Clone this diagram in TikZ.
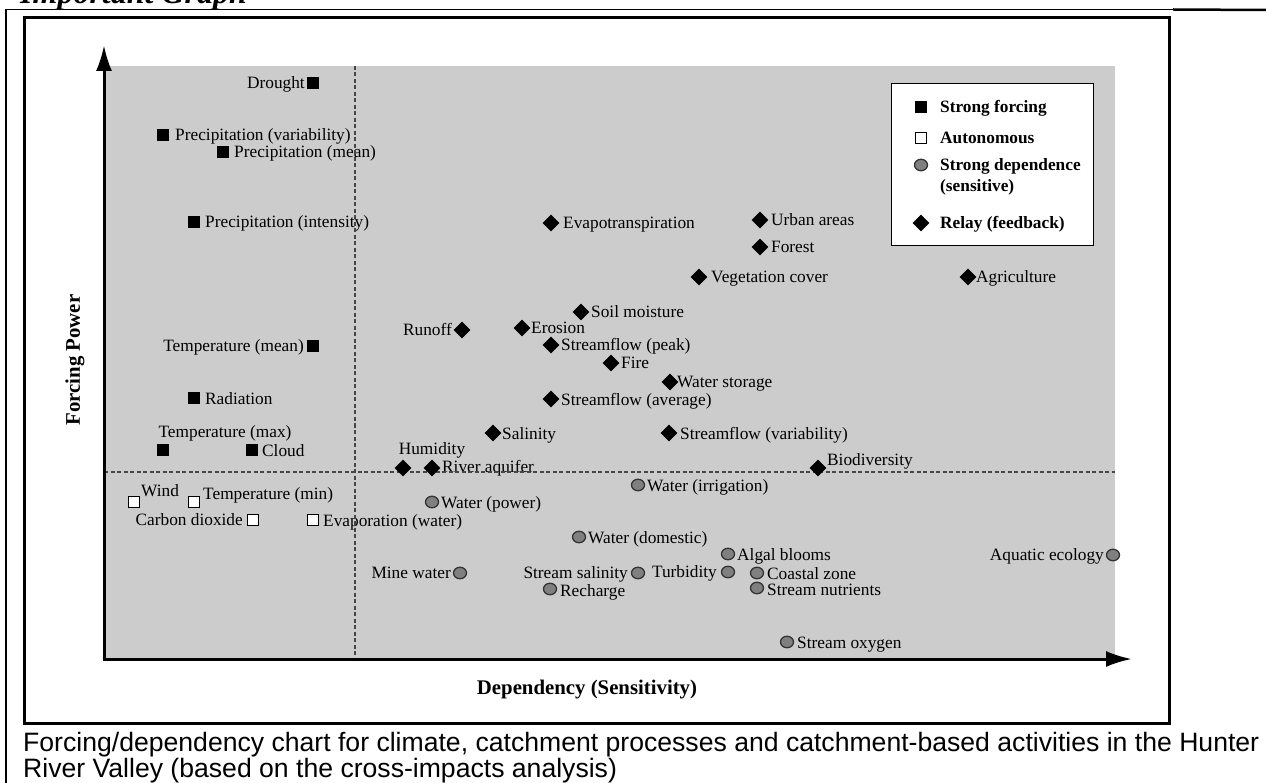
\documentclass[tikz,border=0pt]{standalone}
\usepackage{fontspec}
\setmainfont{Liberation Serif}
\newfontfamily\capfont{Liberation Sans}
\usetikzlibrary{shapes.geometric,arrows.meta}
\definecolor{plotgrey}{RGB}{204,204,204}
\definecolor{dotgrey}{RGB}{128,128,128}
\definecolor{dashgrey}{RGB}{70,70,70}
\begin{document}
\begin{tikzpicture}[x=1pt,y=-1pt,
  lbl/.style={font=\fontsize{17.3}{20}\selectfont, inner sep=0pt},
  lw/.style={lbl, anchor=base west, yshift=-6pt},
  le/.style={lbl, anchor=base east, yshift=-6pt},
  lc/.style={lbl, anchor=base, yshift=-6pt},
  lgt/.style={font=\bfseries\fontsize{17.3}{20}\selectfont, inner sep=0pt, anchor=base west, yshift=-6pt},
  axlbl/.style={font=\bfseries\fontsize{20.8}{24}\selectfont, inner sep=0pt},
  capt/.style={font=\capfont\fontsize{26.6}{30}\selectfont, anchor=base west, inner sep=0pt},
  sq/.style={rectangle, fill=black, minimum size=12pt, inner sep=0pt},
  osq/.style={rectangle, draw=black, fill=white, line width=1pt, minimum size=10.5pt, inner sep=0pt},
  dm/.style={diamond, fill=black, minimum width=17pt, minimum height=17pt, inner sep=0pt},
  cr/.style={ellipse, draw=black!80, fill=dotgrey, line width=1.3pt, minimum width=13pt, minimum height=11.5pt, inner sep=0pt},
  dashline/.style={draw=dashgrey, line width=1.5pt, dash pattern=on 4pt off 2.5pt},
  axis/.style={line width=3pt, -{Latex[length=26pt,width=16pt]}}
]
\useasboundingbox (0,0) rectangle (1266,783);

% heading and page frame
\node[font=\bfseries\itshape\fontsize{32}{36}\selectfont, anchor=base west, inner sep=0pt] (title) at (20,4) {Important Graph};
\coordinate (tl) at (6,9.5);
\coordinate (tm) at (1173,9.5);
\coordinate (tr) at (1266,10);
\coordinate (bl) at (6,783);
\draw[line width=1.5pt] (bl) -- (tl) -- (tm);
\draw[line width=2.5pt] (tm) -- (tr);

% chart frame
\node[draw, line width=3pt, fill=white, minimum width=1145pt, minimum height=706pt, anchor=north west, inner sep=0pt] (frame) at (23,16) {};

% plot area
\node[fill=plotgrey, minimum width=1011pt, minimum height=593pt, anchor=north west, inner sep=0pt] (plot) at (104,66) {};

% legend
\node[draw, line width=1.2pt, fill=white, minimum width=202pt, minimum height=162pt, anchor=north west, inner sep=0pt] (legend) at (891,83) {};
\node[lgt] (kt1) at (940,107) {Strong forcing};
\node[lgt] (kt2) at (940,138) {Autonomous};
\node[lgt] (kt3) at (940,165) {Strong dependence};
\node[lgt] (kt3b) at (940,186) {(sensitive)};
\node[lgt] (kt4) at (940,223) {Relay (feedback)};

% labels: strong forcing
\node[le] (l1) at (305,83) {Drought};
\node[lw] (l2) at (175,135) {Precipitation (variability)};
\node[lw] (l3) at (234,152) {Precipitation (mean)};
\node[lw] (l4) at (205,222) {Precipitation (intensity)};
\node[le] (l5) at (304,346) {Temperature (mean)};
\node[lw] (l6) at (205,398) {Radiation};
\node[lc] (l7) at (225,431) {Temperature (max)};
\node[lw] (l8) at (262,450) {Cloud};
% autonomous
\node[lw] (l9) at (141,490) {Wind};
\node[lw] (l10) at (203,493) {Temperature (min)};
\node[le] (l11) at (243,519) {Carbon dioxide};
\node[lw] (l12) at (323,520) {Evaporation (water)};
% relay
\node[lw] (l13) at (563,223) {Evapotranspiration};
\node[lw] (l14) at (771,220) {Urban areas};
\node[lw] (l15) at (771,247) {Forest};
\node[lw] (l16) at (711,277) {Vegetation cover};
\node[lw] (l17) at (976,277) {Agriculture};
\node[lw] (l18) at (591,312) {Soil moisture};
\node[le] (l19) at (452,330) {Runoff};
\node[lw] (l20) at (531,328) {Erosion};
\node[lw] (l21) at (561,345) {Streamflow (peak)};
\node[lw] (l22) at (621,363) {Fire};
\node[lw] (l23) at (677,382) {Water storage};
\node[lw] (l24) at (561,399) {Streamflow (average)};
\node[lw] (l25) at (502,433) {Salinity};
\node[lw] (l26) at (680,433) {Streamflow (variability)};
\node[lc] (l27) at (432,448) {Humidity};
\node[lw] (l28) at (442,466) {River aquifer};
\node[lw] (l29) at (827,459) {Biodiversity};
% strong dependence
\node[lw] (l30) at (647,485) {Water (irrigation)};
\node[lw] (l31) at (441,502) {Water (power)};
\node[lw] (l32) at (588,537) {Water (domestic)};
\node[lw] (l33) at (737,554) {Algal blooms};
\node[le] (l34) at (1104,554) {Aquatic ecology};
\node[le] (l35) at (451,572) {Mine water};
\node[le] (l36) at (628,572) {Stream salinity};
\node[le] (l37) at (717,571) {Turbidity};
\node[lw] (l38) at (767,573) {Coastal zone};
\node[lw] (l39) at (560,590) {Recharge};
\node[lw] (l40) at (767,589) {Stream nutrients};
\node[lw] (l41) at (797,642) {Stream oxygen};

% dashed quadrant lines
\coordinate (vtop) at (355,66);
\coordinate (vbot) at (355,659);
\coordinate (hleft) at (104,472);
\coordinate (hright) at (1115,472);
\draw[dashline] (vtop) -- (vbot);
\draw[dashline] (hleft) -- (hright);

% markers
\node[sq] (k1) at (921,107) {};
\node[osq] (k2) at (921,138) {};
\node[cr] (k3) at (921,165) {};
\node[dm] (k4) at (921,223) {};

\node[sq] (m1) at (313,83) {};
\node[sq] (m2) at (163,135) {};
\node[sq] (m3) at (223,152) {};
\node[sq] (m4) at (194,222) {};
\node[sq] (m5) at (313,346) {};
\node[sq] (m6) at (194,398) {};
\node[sq] (m7) at (163,450) {};
\node[sq] (m8) at (252,450) {};

\node[osq] (m9) at (134,502) {};
\node[osq] (m10) at (194,502) {};
\node[osq] (m11) at (253,520) {};
\node[osq] (m12) at (313,520) {};

\node[dm] (m13) at (551,223) {};
\node[dm] (m14) at (760,220) {};
\node[dm] (m15) at (760,247) {};
\node[dm] (m16) at (699,277) {};
\node[dm] (m17) at (968,277) {};
\node[dm] (m18) at (581,312) {};
\node[dm] (m19) at (462,330) {};
\node[dm] (m20) at (522,328) {};
\node[dm] (m21) at (551,345) {};
\node[dm] (m22) at (611,363) {};
\node[dm] (m23) at (670,382) {};
\node[dm] (m24) at (551,399) {};
\node[dm] (m25) at (493,433) {};
\node[dm] (m26) at (669,433) {};
\node[dm] (m27) at (403,468) {};
\node[dm] (m28) at (432,468) {};
\node[dm] (m29) at (818,468) {};

\node[cr] (m30) at (638,485) {};
\node[cr] (m31) at (432,502) {};
\node[cr] (m32) at (579,537) {};
\node[cr] (m33) at (728,554) {};
\node[cr] (m34) at (1113,555) {};
\node[cr] (m35) at (460,573) {};
\node[cr] (m36) at (638,573) {};
\node[cr] (m37) at (728,572) {};
\node[cr] (m38) at (757,573) {};
\node[cr] (m39) at (550,589) {};
\node[cr] (m40) at (757,588) {};
\node[cr] (m41) at (787,642) {};

% axes
\coordinate (origin) at (104,659);
\coordinate (ytip) at (104,45);
\coordinate (xstart) at (102.5,659);
\coordinate (xtip) at (1132,659);
\draw[axis] (origin) -- (ytip);
\draw[axis] (xstart) -- (xtip);

\node[axlbl, rotate=90] (ylab) at (75,360) {Forcing Power};
\node[axlbl] (xlab) at (587,690) {Dependency (Sensitivity)};

% caption
\node[capt] (cap1) at (23,751) {Forcing/dependency chart for climate, catchment processes and catchment-based activities in the Hunter};
\node[capt] (cap2) at (23,777) {River Valley (based on the cross-impacts analysis)};
\end{tikzpicture}
\end{document}
